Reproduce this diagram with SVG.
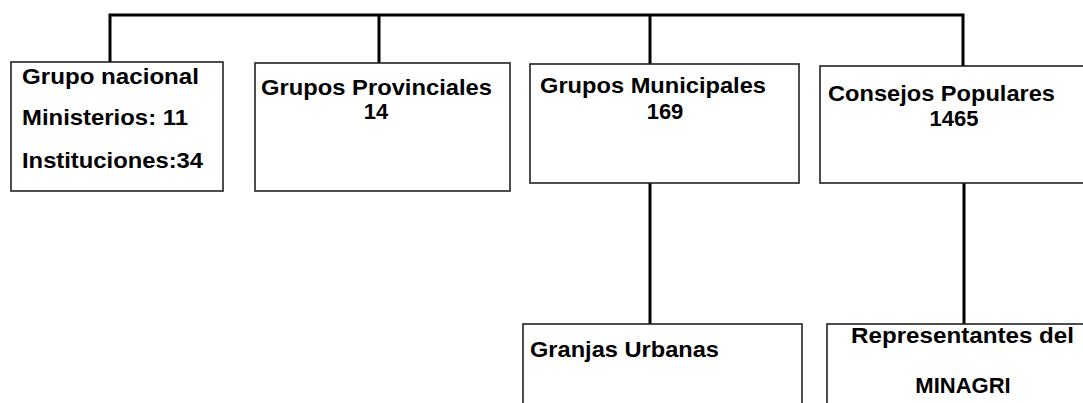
<svg xmlns="http://www.w3.org/2000/svg" width="1083" height="403" viewBox="0 0 1083 403">
<style>
.box{fill:#fff;stroke:#222;stroke-width:1.6}
.conn{fill:none;stroke:#000;stroke-width:3;stroke-linecap:square}
text{font-family:"Liberation Sans",Arial,sans-serif;font-weight:bold;font-size:22px;fill:#000}
.c{text-anchor:middle}
</style>
<rect width="1083" height="403" fill="#fff"/>
<g id="connectors">
<path class="conn" d="M110 15 H963 M110 15 V62 M379 15 V63 M650 15 V64 M963 15 V66 M650 183 V324 M964 183 V324"/>
</g>
<g id="grupo-nacional">
<rect class="box" x="11" y="62" width="212" height="129"/>
<text x="22" y="84" textLength="177" lengthAdjust="spacingAndGlyphs">Grupo nacional</text>
<text x="22" y="125" textLength="166" lengthAdjust="spacingAndGlyphs">Ministerios: 11</text>
<text x="22" y="168" textLength="181" lengthAdjust="spacingAndGlyphs">Instituciones:34</text>
</g>
<g id="grupos-provinciales">
<rect class="box" x="255" y="63" width="255" height="128"/>
<text x="261" y="95" textLength="231" lengthAdjust="spacingAndGlyphs">Grupos Provinciales</text>
<text class="c" x="376" y="119">14</text>
</g>
<g id="grupos-municipales">
<rect class="box" x="530" y="64" width="269" height="119"/>
<text x="540" y="93" textLength="226" lengthAdjust="spacingAndGlyphs">Grupos Municipales</text>
<text class="c" x="665" y="119">169</text>
</g>
<g id="consejos-populares">
<rect class="box" x="820" y="66" width="280" height="117"/>
<text x="828" y="101" textLength="227" lengthAdjust="spacingAndGlyphs">Consejos Populares</text>
<text class="c" x="954" y="126">1465</text>
</g>
<g id="granjas-urbanas">
<rect class="box" x="523" y="324" width="279" height="100"/>
<text x="530" y="357" textLength="189" lengthAdjust="spacingAndGlyphs">Granjas Urbanas</text>
</g>
<g id="representantes">
<rect class="box" x="827" y="324" width="280" height="100"/>
<text x="851" y="343" textLength="223" lengthAdjust="spacingAndGlyphs">Representantes del</text>
<text class="c" x="963" y="393">MINAGRI</text>
</g>
</svg>
